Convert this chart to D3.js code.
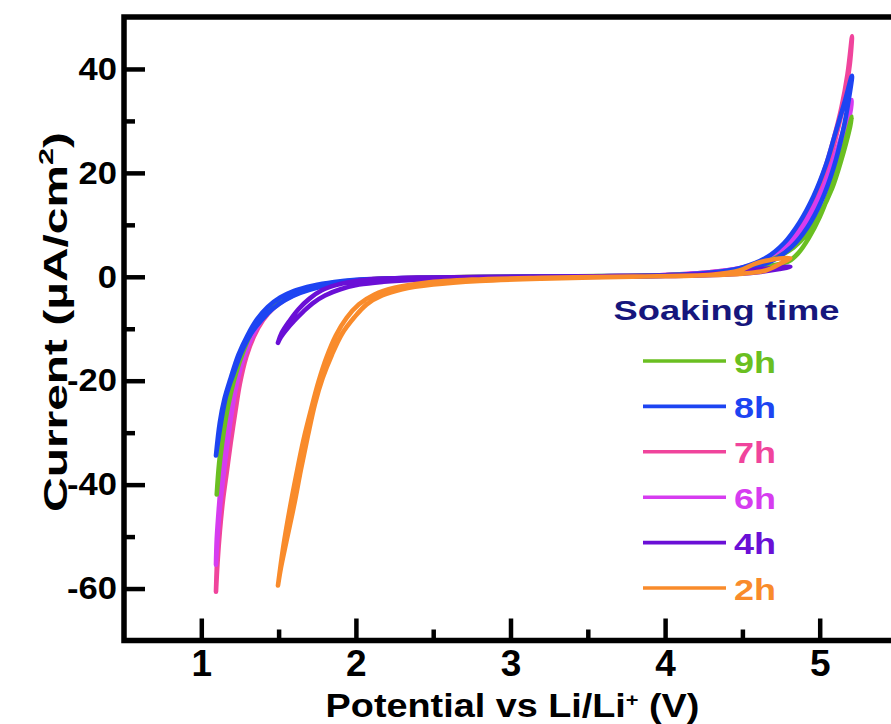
<!DOCTYPE html>
<html>
<head>
<meta charset="utf-8">
<script src="https://cdn.jsdelivr.net/npm/d3@7"></script>
<style>
  body { margin: 0; background: #fff; }
  svg { display: block; }
  text { font-family: "Liberation Sans", Arial, Helvetica, sans-serif; font-weight: bold; }
</style>
</head>
<body>
<svg id="chart" width="891" height="724"></svg>
<script>
// Cyclic voltammetry loops: [potential (V vs Li/Li+), current (µA/cm²)]
// each loop runs from the low vertex up to the high vertex and back.
const loop9h = [
  [1.10,-41.9],[1.115,-37],[1.135,-32],[1.16,-27],[1.19,-22.5],[1.225,-18.5],[1.27,-14.5],[1.33,-10.3],
  [1.39,-7.5],[1.46,-5.4],[1.55,-3.7],[1.66,-2.4],[1.8,-1.4],[1.96,-0.8],[2.2,-0.35],[2.7,-0.05],[3.4,0.1],
  [4.0,0.3],[4.35,0.7],[4.55,1.4],[4.7,2.2],[4.8,3.0],[4.86,4.5],[4.93,7.5],[5.0,11.5],[5.06,16],[5.11,20.5],
  [5.16,25.5],[5.209,30.8],
  [5.19,28],[5.14,22.5],[5.08,17],[5.0,12],[4.92,8.3],[4.83,5.6],[4.72,3.7],[4.6,2.3],[4.45,1.3],[4.2,0.5],
  [3.7,0.1],[3.0,-0.05],[2.5,-0.2],[2.1,-0.55],[1.9,-1.0],[1.75,-1.8],[1.62,-2.9],[1.52,-4.3],[1.44,-6.0],
  [1.37,-8.3],[1.31,-11.3],[1.255,-15],[1.21,-19.5],[1.17,-24.5],[1.14,-30],[1.115,-36],[1.10,-41.9]
];
const loop8h = [
  [1.095,-34.4],[1.12,-28],[1.15,-23.5],[1.19,-19.5],[1.24,-15],[1.30,-11.2],[1.36,-8.2],[1.43,-5.8],
  [1.51,-4.0],[1.60,-2.7],[1.72,-1.7],[1.86,-1.0],[2.0,-0.6],[2.3,-0.25],[2.8,-0.05],[3.5,0.1],[4.0,0.3],
  [4.3,0.8],[4.5,1.8],[4.65,3.6],[4.77,6.5],[4.87,10.5],[4.96,15.5],[5.04,21.5],[5.10,27.5],[5.16,33.5],
  [5.209,38.7],
  [5.19,34.5],[5.15,28],[5.09,21],[5.01,14.5],[4.92,9.5],[4.82,5.8],[4.7,3.2],[4.55,1.6],[4.35,0.7],[4.0,0.2],
  [3.4,0],[2.8,-0.15],[2.35,-0.35],[2.05,-0.75],[1.9,-1.2],[1.76,-2.0],[1.64,-3.1],[1.54,-4.5],[1.46,-6.2],
  [1.39,-8.3],[1.32,-11],[1.26,-14.5],[1.21,-18.5],[1.16,-23],[1.125,-28.5],[1.095,-34.4]
];
const loop7h = [
  [1.095,-60.6],[1.105,-55],[1.12,-49],[1.14,-43],[1.165,-37.5],[1.19,-32],[1.22,-26],[1.25,-20.5],
  [1.29,-15.5],[1.34,-11.5],[1.40,-8.3],[1.47,-5.9],[1.55,-4.1],[1.65,-2.7],[1.78,-1.6],[1.94,-0.9],
  [2.15,-0.4],[2.6,-0.1],[3.3,0.05],[4.0,0.3],[4.3,0.75],[4.5,1.6],[4.64,3.2],[4.76,5.8],[4.86,9.5],
  [4.95,14.5],[5.03,20.5],[5.09,26.5],[5.14,32.5],[5.18,39],[5.209,46.3],
  [5.195,41],[5.16,34],[5.11,27.5],[5.05,21],[4.97,15],[4.88,10],[4.78,6.2],[4.66,3.6],[4.52,1.9],[4.3,0.9],
  [4.0,0.35],[3.4,0.05],[2.8,-0.1],[2.3,-0.3],[2.05,-0.65],[1.88,-1.2],[1.74,-2.0],[1.62,-3.2],[1.52,-4.8],
  [1.44,-6.8],[1.37,-9.5],[1.31,-13],[1.26,-17.5],[1.22,-23],[1.18,-29.5],[1.15,-36],[1.125,-43],[1.11,-50],
  [1.1,-56],[1.095,-60.6]
];
const loop6h = [
  [1.095,-55.4],[1.105,-50],[1.12,-44.5],[1.14,-39],[1.165,-33],[1.19,-27.5],[1.22,-22],[1.26,-17],
  [1.31,-12.8],[1.37,-9.2],[1.44,-6.5],[1.52,-4.5],[1.62,-3.0],[1.75,-1.8],[1.9,-1.0],[2.1,-0.45],
  [2.5,-0.15],[3.2,0.05],[4.0,0.3],[4.3,0.7],[4.5,1.5],[4.65,3.0],[4.77,5.5],[4.87,8.8],[4.95,12.8],
  [5.03,17.5],[5.09,22.5],[5.15,28],[5.209,34.0],
  [5.19,30.5],[5.14,25],[5.07,19],[4.99,13.8],[4.9,9.5],[4.8,6.2],[4.68,3.7],[4.53,2.0],[4.3,0.9],[4.0,0.35],
  [3.3,0.05],[2.7,-0.12],[2.25,-0.35],[2.0,-0.7],[1.84,-1.3],[1.7,-2.2],[1.58,-3.5],[1.49,-5.2],[1.41,-7.4],
  [1.34,-10.3],[1.28,-14],[1.23,-18.5],[1.19,-24],[1.16,-30],[1.135,-37],[1.115,-44],[1.10,-50.5],[1.095,-55.4]
];
const loop4h = [
  [1.496,-12.7],[1.52,-10.8],[1.57,-8.5],[1.63,-6.2],[1.70,-4.2],[1.78,-2.6],[1.87,-1.6],[1.96,-1.0],
  [2.1,-0.5],[2.4,-0.15],[3.0,0],[3.6,0.1],[4.1,0.3],[4.4,0.7],[4.55,1.2],[4.7,1.7],[4.81,1.9],
  [4.74,1.5],[4.6,0.9],[4.4,0.45],[4.0,0.15],[3.4,-0.05],[2.8,-0.25],[2.4,-0.55],[2.18,-0.95],[2.02,-1.5],
  [1.9,-2.4],[1.8,-3.6],[1.72,-5.1],[1.66,-6.7],[1.6,-8.5],[1.55,-10.2],[1.515,-11.6],[1.496,-12.7]
];
const loop2h = [
  [1.496,-59.4],[1.53,-52],[1.57,-45],[1.615,-38],[1.66,-31.5],[1.71,-25.5],[1.76,-20],[1.81,-15.5],
  [1.87,-11.3],[1.94,-7.9],[2.02,-5.3],[2.12,-3.4],[2.25,-2.1],[2.45,-1.15],[2.75,-0.55],[3.2,-0.2],
  [3.8,0.05],[4.3,0.4],[4.48,1.2],[4.58,2.5],[4.67,3.2],[4.81,3.6],
  [4.75,2.6],[4.65,1.2],[4.5,0.6],[4.2,0.25],[3.7,-0.05],[3.2,-0.35],[2.8,-0.8],[2.5,-1.5],[2.3,-2.4],
  [2.17,-3.6],[2.07,-5.3],[1.99,-7.8],[1.91,-11],[1.845,-15],[1.785,-19.5],[1.735,-24.5],[1.69,-30.5],
  [1.645,-37],[1.60,-44],[1.55,-51],[1.515,-56],[1.496,-59.4]
];

// Legend order (top to bottom) and matching loops / colours
const soakTimes = ["9h", "8h", "7h", "6h", "4h", "2h"];
const loops = [loop9h, loop8h, loop7h, loop6h, loop4h, loop2h];
const palette = ["#6abf21", "#1d44f2", "#f0449c", "#d63cf0", "#6a0fd6", "#f98b2b"];
// Which loops sit on top of which (indices into soakTimes, first drawn first)
const drawOrder = [2, 3, 0, 1, 4, 5];

// Axis ticks
const xMajorTicks = [1, 2, 3, 4, 5];
const xMinorTicks = [1.5, 2.5, 3.5, 4.5];
const yMajorTicks = [-60, -40, -20, 0, 20, 40];
const yMinorTicks = [-50, -30, -10, 10, 30];

const svg = d3.select("#chart");
svg.append("rect").attr("width", 891).attr("height", 724).attr("fill", "#fff");

const x = d3.scaleLinear().domain([0.5, 5.5]).range([124, 897]);
const y = d3.scaleLinear().domain([-70, 50]).range([640.5, 17]);

// Curves
const line = d3.line()
  .x(d => x(d[0]))
  .y(d => y(d[1]))
  .curve(d3.curveCatmullRom.alpha(0.5));

const curves = svg.append("g").attr("fill", "none")
  .attr("stroke-linecap", "round").attr("stroke-linejoin", "round");
drawOrder.forEach(i => {
  curves.append("path")
    .attr("d", line(loops[i]))
    .attr("stroke", palette[i])
    .attr("stroke-width", 4.6);
});

// Frame
const AXIS_W = 5.5;
svg.append("rect")
  .attr("x", x(0.5)).attr("y", y(50))
  .attr("width", x(5.5) - x(0.5)).attr("height", y(-70) - y(50))
  .attr("fill", "none").attr("stroke", "#000").attr("stroke-width", AXIS_W);

const fmt = d => (d < 0 ? "-" + Math.abs(d) : String(d));

function styleAxis(g, fontSize) {
  g.select(".domain").remove();
  g.attr("font-family", null).attr("font-size", null);
  g.selectAll(".tick line").attr("stroke", "#000").attr("stroke-width", 4.5);
  g.selectAll(".tick text").attr("fill", "#000").attr("font-size", fontSize);
}

// Y axis (inward ticks)
svg.append("g").attr("transform", `translate(${x(0.5)},0)`)
  .call(d3.axisLeft(y).tickValues(yMinorTicks).tickSize(-11).tickFormat(""))
  .call(g => styleAxis(g, 0));
const yAx = svg.append("g").attr("transform", `translate(${x(0.5)},0)`)
  .call(d3.axisLeft(y).tickValues(yMajorTicks).tickSize(-21).tickPadding(7).tickFormat(fmt))
  .call(g => styleAxis(g, 32));
yAx.selectAll(".tick text")
  .attr("x", 0)
  .attr("transform", "translate(-7,0) scale(1.08,1)");

// X axis (inward ticks)
svg.append("g").attr("transform", `translate(0,${y(-70)})`)
  .call(d3.axisBottom(x).tickValues(xMinorTicks).tickSize(-11).tickFormat(""))
  .call(g => styleAxis(g, 0));
svg.append("g").attr("transform", `translate(0,${y(-70)})`)
  .call(d3.axisBottom(x).tickValues(xMajorTicks).tickSize(-22).tickPadding(9).tickFormat(fmt))
  .call(g => styleAxis(g, 37));

// Stretch a text node horizontally so its advance width equals `width`
function fit(textSel, width, tx, ty, rot) {
  const w = textSel.node().getComputedTextLength();
  const s = width / w;
  textSel.attr("transform", `translate(${tx},${ty})` + (rot ? ` rotate(${rot})` : "") + ` scale(${s},1)`);
  return s;
}

// Axis titles
const xTitle = svg.append("text").attr("text-anchor", "middle").attr("font-size", 33).attr("fill", "#000");
xTitle.append("tspan").text("Potential vs Li/Li");
xTitle.append("tspan").attr("font-size", 19).attr("dy", -11).text("+");
xTitle.append("tspan").attr("dy", 11).text(" (V)");
fit(xTitle, 374, 512.5, 717);

const yTitle = svg.append("text").attr("text-anchor", "middle").attr("font-size", 33).attr("fill", "#000");
yTitle.append("tspan").text("Current (µA/cm");
yTitle.append("tspan").attr("font-size", 21).attr("dy", -14).text("2");
yTitle.append("tspan").attr("dy", 14).text(")");
fit(yTitle, 380, 67, 322, -90);

// Legend
const legendTitle = svg.append("text").attr("text-anchor", "middle")
  .attr("font-size", 28).attr("fill", "#16167c").text("Soaking time");
fit(legendTitle, 226, 726.5, 320);

const legendTop = 361, legendStep = 45.4;
const legend = svg.append("g");
soakTimes.forEach((t, i) => {
  const cy = legendTop + i * legendStep;
  legend.append("line")
    .attr("x1", 643).attr("x2", 726).attr("y1", cy).attr("y2", cy)
    .attr("stroke", palette[i]).attr("stroke-width", 3.6);
  const lbl = legend.append("text").attr("font-size", 29).attr("fill", palette[i]).text(t);
  fit(lbl, 42, 734, cy + 11.5);
});
</script>
</body>
</html>
